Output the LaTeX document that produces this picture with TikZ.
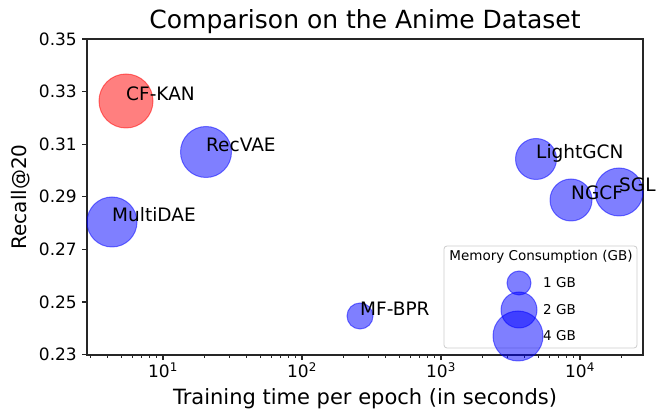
\documentclass[tikz,border=0pt]{standalone}
\usepackage{fontspec}
\setmainfont{DejaVu Sans}
\begin{document}
\begin{tikzpicture}[x=1pt,y=-1pt,
  bub/.style={circle, inner sep=0pt, fill=blue, fill opacity=0.5, draw=blue, draw opacity=0.5, line width=1pt},
  redbub/.style={circle, inner sep=0pt, fill=red, fill opacity=0.5, draw=red, draw opacity=0.5, line width=1pt},
  ptlabel/.style={anchor=base west, inner sep=0pt, font=\fontsize{18.5}{22}\selectfont},
  ticklab/.style={inner sep=0pt, font=\fontsize{17}{20}\selectfont},
  legtext/.style={inner sep=0pt, font=\fontsize{13.5}{16}\selectfont},
  majtick/.style={line width=1.1pt, black!85},
  mintick/.style={line width=0.8pt, black!85},
  frame/.style={line width=1.1pt, black!85}
]
\useasboundingbox (0,0) rectangle (665,419);
% axes frame
\draw[frame] (87,39) rectangle (643,355);
% y ticks
\foreach \i/\lab in {0/0.35,1/0.33,2/0.31,3/0.29,4/0.27,5/0.25,6/0.23}{
  \pgfmathsetmacro\yy{39+\i*52.6}
  \draw[majtick] (87,\yy) -- (82,\yy);
  \node[ticklab, anchor=east] (yt\i) at (77,\yy) {\lab};
}
% x major ticks
\foreach \k/\xx in {1/163,2/302,3/441,4/580}{
  \draw[majtick] (\xx,355) -- (\xx,360);
  \node[ticklab, anchor=base] (xt\k) at (\xx,378) {10\textsuperscript{\k}};
}
% x minor ticks
\foreach \k in {0,...,4}{
  \foreach \m in {2,...,9}{
    \pgfmathsetmacro\xx{163+(\k+log10(\m)-1)*139}
    \pgfmathtruncatemacro\ok{(\xx>88)&&(\xx<642)}
    \ifnum\ok=1 \draw[mintick] (\xx,355) -- (\xx,358); \fi
  }
}
% title and axis labels
\node[anchor=base, inner sep=0pt, font=\fontsize{25}{30}\selectfont] (title) at (365,29) {Comparison on the Anime Dataset};
\node[anchor=base, inner sep=0pt, font=\fontsize{21}{25}\selectfont] (xlabel) at (365,405) {Training time per epoch (in seconds)};
\node[anchor=base, rotate=90, inner sep=0pt, font=\fontsize{20}{24}\selectfont] (ylabel) at (27,197) {Recall@20};
% bubbles
\node[redbub, minimum size=54pt] (cfkan) at (126,101) {};
\node[bub, minimum size=51pt] (recvae) at (206,152) {};
\node[bub, minimum size=50pt] (multidae) at (112,222) {};
\node[bub, minimum size=26pt] (mfbpr) at (360,316) {};
\node[bub, minimum size=41pt] (lightgcn) at (536,159) {};
\node[bub, minimum size=42pt] (ngcf) at (571,200) {};
\node[bub, minimum size=48pt] (sgl) at (619,192) {};
% point labels
\node[ptlabel] (lcfkan) at (cfkan.center) {CF-KAN};
\node[ptlabel] (lrecvae) at (recvae.center) {RecVAE};
\node[ptlabel] (lmultidae) at (multidae.center) {MultiDAE};
\node[ptlabel] (lmfbpr) at (mfbpr.center) {MF-BPR};
\node[ptlabel] (llightgcn) at (lightgcn.center) {LightGCN};
\node[ptlabel] (lngcf) at (ngcf.center) {NGCF};
\node[ptlabel] (lsgl) at (sgl.center) {SGL};
% legend
\draw[rounded corners=3pt, draw=black!20, fill=white, fill opacity=0.8, line width=0.8pt] (444,246) rectangle (637,348);
\node[legtext, anchor=base] (legtitle) at (541,261) {Memory Consumption (GB)};
\node[bub, minimum size=24pt] (leg1) at (519,283) {};
\node[bub, minimum size=36pt] (leg2) at (519,310) {};
\node[bub, minimum size=50pt] (leg4) at (518,336) {};
\node[legtext, anchor=west] (lleg1) at (543,283) {1 GB};
\node[legtext, anchor=west] (lleg2) at (543,310) {2 GB};
\node[legtext, anchor=west] (lleg4) at (543,336) {4 GB};
\end{tikzpicture}
\end{document}
